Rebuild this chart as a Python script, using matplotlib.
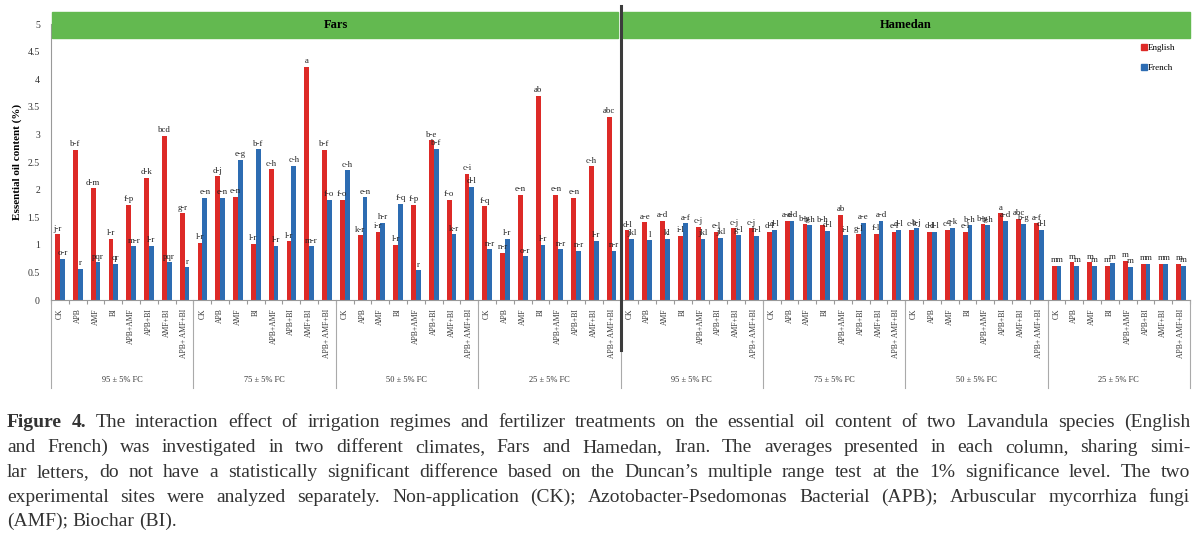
import numpy as np
import matplotlib
matplotlib.use("Agg")
import matplotlib.pyplot as plt
from matplotlib.patches import Rectangle
from matplotlib.lines import Line2D

# Essential oil content (%), 8 treatments x 4 irrigation regimes per site
treatments = ['CK', 'APB', 'AMF', 'BI', 'APB+AMF', 'APB+BI', 'AMF+BI', 'APB+ AMF+BI']
regimes = ['95 ± 5% FC', '75 ± 5% FC', '50 ± 5% FC', '25 ± 5% FC']
sites = ['Fars', 'Hamedan']

fars_english = [1.19, 2.72, 2.02, 1.11, 1.73, 2.21, 2.97, 1.57,
                1.04, 2.24, 1.87, 1.02, 2.37, 1.06, 4.23, 2.72,
                1.81, 1.17, 1.24, 1.00, 1.73, 2.89, 1.81, 2.29,
                1.70, 0.86, 1.90, 3.70, 1.90, 1.85, 2.42, 3.32]
fars_french = [0.75, 0.57, 0.68, 0.65, 0.97, 0.98, 0.68, 0.59,
               1.85, 1.85, 2.54, 2.73, 0.98, 2.43, 0.97, 1.81,
               2.35, 1.86, 1.40, 1.74, 0.54, 2.74, 1.19, 2.05,
               0.92, 1.11, 0.79, 1.00, 0.92, 0.89, 1.07, 0.89]
hamedan_english = [1.26, 1.41, 1.43, 1.16, 1.32, 1.23, 1.30, 1.30,
                   1.24, 1.43, 1.37, 1.35, 1.54, 1.19, 1.20, 1.23,
                   1.27, 1.24, 1.27, 1.23, 1.37, 1.57, 1.47, 1.39,
                   0.62, 0.68, 0.68, 0.62, 0.71, 0.66, 0.66, 0.65]
hamedan_french = [1.11, 1.08, 1.11, 1.39, 1.11, 1.13, 1.17, 1.16,
                  1.27, 1.43, 1.35, 1.25, 1.17, 1.40, 1.43, 1.27,
                  1.30, 1.23, 1.31, 1.35, 1.35, 1.43, 1.38, 1.27,
                  0.62, 0.62, 0.62, 0.67, 0.60, 0.66, 0.66, 0.62]

# Duncan letters
fars_english_letters = ['j-r', 'b-f', 'd-m', 'l-r', 'f-p', 'd-k', 'bcd', 'g-r',
                        'l-r', 'd-j', 'e-n', 'l-r', 'c-h', 'l-r', 'a', 'b-f',
                        'f-o', 'k-r', 'i-r', 'l-r', 'f-p', 'b-e', 'f-o', 'c-i',
                        'f-q', 'n-r', 'e-n', 'ab', 'e-n', 'e-n', 'c-h', 'abc']
fars_french_letters = ['o-r', 'r', 'pqr', 'qr', 'm-r', 'l-r', 'pqr', 'r',
                       'e-n', 'e-n', 'e-g', 'b-f', 'l-r', 'c-h', 'm-r', 'f-o',
                       'c-h', 'e-n', 'h-r', 'f-q', 'r', 'b-f', 'k-r', 'd-l',
                       'n-r', 'l-r', 'o-r', 'l-r', 'n-r', 'n-r', 'l-r', 'n-r']
hamedan_english_letters = ['d-l', 'a-e', 'a-d', 'i-l', 'c-j', 'e-l', 'c-j', 'c-j',
                           'd-l', 'a-d', 'b-g', 'b-h', 'ab', 'g-l', 'f-l', 'e-l',
                           'c-k', 'd-l', 'c-l', 'e-l', 'b-g', 'a', 'abc', 'a-f',
                           'm', 'm', 'm', 'm', 'm', 'm', 'm', 'm']
hamedan_french_letters = ['jkl', 'l', 'kl', 'a-f', 'jkl', 'jkl', 'g-l', 'h-l',
                          'd-l', 'a-d', 'b-h', 'd-l', 'i-l', 'a-e', 'a-d', 'd-l',
                          'b-j', 'd-l', 'c-k', 'b-h', 'b-h', 'a-d', 'b-g', 'd-l',
                          'm', 'm', 'm', 'm', 'm', 'm', 'm', 'm']

caption_lines = [
    "Figure 4. The interaction effect of irrigation regimes and fertilizer treatments on the essential oil content of two Lavandula species (English",
    "and French) was investigated in two different climates, Fars and Hamedan, Iran. The averages presented in each column, sharing simi-",
    "lar letters, do not have a statistically significant difference based on the Duncan\u2019s multiple range test at the 1% significance level. The two",
    "experimental sites were analyzed separately. Non-application (CK); Azotobacter-Psedomonas Bacterial (APB); Arbuscular mycorrhiza fungi",
    "(AMF); Biochar (BI).",
]

RED = '#dd2a27'
BLUE = '#2d6cb2'
GREEN = '#63b950'
SERIF = 'Liberation Serif'
W, H = 1200, 538

english = fars_english + hamedan_english
french = fars_french + hamedan_french
eng_letters = fars_english_letters + hamedan_english_letters
fr_letters = fars_french_letters + hamedan_french_letters
n = len(english)
x = np.arange(n)

fig = plt.figure(figsize=(W / 100, H / 100), dpi=100)
ax = fig.add_axes([51 / W, 1 - 300 / H, (1190 - 51) / W, (300 - 24) / H])

bw = 0.27
ax.bar(x - 0.13, english, width=bw, color=RED, zorder=2)
ax.bar(x + 0.14, french, width=bw, color=BLUE, zorder=2)

for i in range(n):
    ax.text(x[i] - 0.13, english[i] + 0.03, eng_letters[i], ha='center', va='bottom',
            fontsize=6.3, family=SERIF, color='#222222')
    ax.text(x[i] + 0.14, french[i] + 0.03, fr_letters[i], ha='center', va='bottom',
            fontsize=6.3, family=SERIF, color='#222222')

ax.set_xlim(-0.5, n - 0.5)
ax.set_ylim(0, 5)
ax.set_yticks(np.arange(0, 5.01, 0.5))
ax.set_yticklabels(['0', '0.5', '1', '1.5', '2', '2.5', '3', '3.5', '4', '4.5', '5'],
                   family=SERIF, fontsize=7)
ax.tick_params(axis='y', length=0, pad=8, colors='#333333')
ax.set_xticks(np.arange(-0.5, n, 1.0))
ax.set_xticklabels([])
ax.tick_params(axis='x', length=3, color='#999999')
for s in ['top', 'right']:
    ax.spines[s].set_visible(False)
ax.spines['left'].set_color('#999999')
ax.spines['bottom'].set_color('#999999')

fig.text(17 / W, 1 - 162 / H, 'Essential oil content (%)', rotation=90, ha='center',
         va='center', fontsize=8, weight='bold', family=SERIF)

# treatment labels and regime groups under the axis
n_tr = len(treatments)
for i in range(n):
    ax.text(x[i], -0.15, treatments[i % n_tr], rotation=90, ha='center', va='top',
            fontsize=5.5, family=SERIF, color='#333333', clip_on=False)
n_groups = n // n_tr
for g in range(n_groups):
    ax.text(g * n_tr + (n_tr - 1) / 2, -1.45, regimes[g % len(regimes)], ha='center',
            va='center', fontsize=6, family=SERIF, color='#333333', clip_on=False)
for g in range(n_groups + 1):
    ax.plot([g * n_tr - 0.5] * 2, [0, -1.6], color='#aaaaaa', lw=0.8, clip_on=False)

# site headers
half = n / 2
ax.add_patch(Rectangle((-0.45, 4.75), half - 0.5 + 0.45 - 0.15, 0.47, color=GREEN,
                       clip_on=False, zorder=3))
ax.add_patch(Rectangle((half - 0.5 + 0.15, 4.75), half - 0.15, 0.47, color=GREEN,
                       clip_on=False, zorder=3))
ax.text((half - 1) / 2, 4.985, sites[0], ha='center', va='center', fontsize=9,
        weight='bold', family=SERIF, zorder=4)
ax.text(half + (half - 1) / 2, 4.985, sites[1], ha='center', va='center', fontsize=9,
        weight='bold', family=SERIF, zorder=4)
ax.plot([half - 0.5] * 2, [5.33, -0.9], color='#3c3c3c', lw=2.2, clip_on=False, zorder=5)

handles = [Line2D([], [], marker='s', ls='', color=RED, markersize=4),
           Line2D([], [], marker='s', ls='', color=BLUE, markersize=4)]
fig.legend(handles, ['English', 'French'], loc='upper left',
           bbox_to_anchor=(1132 / W, 1 - 36 / H), frameon=False, handletextpad=0.1,
           handlelength=0.8, labelspacing=1.3, prop={'family': SERIF, 'size': 6.5})

# caption, justified line by line
renderer = fig.canvas.get_renderer()
baselines = [427, 452, 477, 502, 526]
x0, x1 = 7, 1190
for k, line in enumerate(caption_lines):
    words = line.split(' ')
    objs = []
    for j, w in enumerate(words):
        bold = (k == 0 and j < 2)
        t = fig.text(0, 1 - baselines[k] / H, w, fontsize=14, family=SERIF,
                     weight='bold' if bold else 'normal', va='baseline', ha='left',
                     color='#333333')
        objs.append(t)
    widths = [t.get_window_extent(renderer).width for t in objs]
    if k < len(caption_lines) - 1:
        gap = (x1 - x0 - sum(widths)) / (len(objs) - 1)
    else:
        gap = 4.5
    pos = x0
    for t, wd in zip(objs, widths):
        t.set_x(pos / W)
        pos += wd + gap

fig.savefig('out.png', dpi=100)
